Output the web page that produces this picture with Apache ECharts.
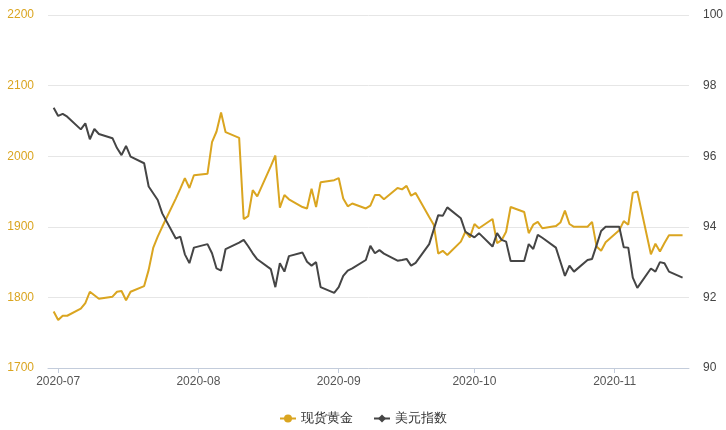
<!DOCTYPE html>
<html>
<head>
<meta charset="utf-8">
<script src="https://cdn.jsdelivr.net/npm/echarts@6/dist/echarts.min.js"></script>
<style>html,body{margin:0;padding:0;background:#fff;}#main{width:726px;height:430px;}</style>
</head>
<body>
<div id="main"></div>
<script>
var dates = [
'2020-06-30',
'2020-07-01','2020-07-02','2020-07-03','2020-07-06','2020-07-07','2020-07-08','2020-07-09','2020-07-10',
'2020-07-13','2020-07-14','2020-07-15','2020-07-16','2020-07-17','2020-07-20','2020-07-21','2020-07-22',
'2020-07-23','2020-07-24','2020-07-27','2020-07-28','2020-07-29','2020-07-30','2020-07-31',
'2020-08-03','2020-08-04','2020-08-05','2020-08-06','2020-08-07','2020-08-10','2020-08-11','2020-08-12',
'2020-08-13','2020-08-14','2020-08-17','2020-08-18','2020-08-19','2020-08-20','2020-08-21','2020-08-24',
'2020-08-25','2020-08-26','2020-08-27','2020-08-28','2020-08-31',
'2020-09-01','2020-09-02','2020-09-03','2020-09-04','2020-09-07','2020-09-08','2020-09-09','2020-09-10',
'2020-09-11','2020-09-14','2020-09-15','2020-09-16','2020-09-17','2020-09-18','2020-09-21','2020-09-22',
'2020-09-23','2020-09-24','2020-09-25','2020-09-28','2020-09-29','2020-09-30',
'2020-10-01','2020-10-02','2020-10-05','2020-10-06','2020-10-07','2020-10-08','2020-10-09','2020-10-12',
'2020-10-13','2020-10-14','2020-10-15','2020-10-16','2020-10-19','2020-10-20','2020-10-21','2020-10-22',
'2020-10-23','2020-10-26','2020-10-27','2020-10-28','2020-10-29','2020-10-30',
'2020-11-02','2020-11-03','2020-11-04','2020-11-05','2020-11-06','2020-11-09','2020-11-10','2020-11-11',
'2020-11-12','2020-11-13','2020-11-16'
];
var goldValues = [
1780,
1768,1774,1774,1784,1792,1808,1803,1798,
1801,1808,1809,1796,1808,1816,1839,1870,
1886,1900,1940,1954,1969,1955,1973,
1975,2020,2035,2062,2034,2026,1911,1915,
1952,1943,1986,2001,1927,1945,1939,1928,
1926,1954,1928,1963,1966,
1969,1940,1929,1933,1926,1930,1945,1945,
1939,1955,1953,1958,1944,1948,1914,1903,
1862,1866,1860,1879,1893,1885,
1904,1898,1911,1877,1881,1893,1928,1921,
1891,1903,1907,1898,1901,1906,1923,1904,
1900,1900,1907,1872,1866,1878,
1895,1908,1903,1948,1950,1861,1876,1865,
1877,1888,1888
];
var dxyValues = [
97.37,
97.14,97.20,97.12,96.76,96.93,96.48,96.77,96.63,
96.51,96.23,96.03,96.29,95.99,95.80,95.14,94.95,
94.76,94.38,93.67,93.72,93.22,92.97,93.41,
93.51,93.25,92.82,92.76,93.37,93.55,93.63,93.45,
93.25,93.08,92.80,92.29,92.97,92.73,93.17,93.27,
93.01,92.90,93.00,92.29,92.13,
92.29,92.61,92.76,92.82,93.06,93.46,93.25,93.34,
93.24,93.04,93.06,93.09,92.90,92.98,93.51,93.92,
94.33,94.31,94.55,94.24,93.86,93.78,
93.70,93.82,93.44,93.82,93.63,93.58,93.03,93.03,
93.51,93.37,93.77,93.69,93.41,93.01,92.61,92.90,
92.73,93.06,93.09,93.48,93.88,94.00,
94.00,93.42,93.41,92.56,92.27,92.82,92.73,93.00,
92.97,92.73,92.56
];
var seriesNames = ['现货黄金', '美元指数'];
var goldTicks = [1700, 2200, 100];
var dxyTicks = [90, 100, 2];

var goldColor = '#DAA520';
var dxyColor = '#454545';

function pairs(vals) {
  return dates.map(function (d, i) { return [d, vals[i]]; });
}

var chart = echarts.init(document.getElementById('main'), null, {renderer: 'canvas'});
chart.setOption({
  animation: false,
  backgroundColor: '#fff',
  grid: {left: 48, right: 35, top: 15, bottom: 62},
  legend: {
    bottom: 0,
    left: 'center',
    itemWidth: 16,
    itemHeight: 10,
    itemGap: 20,
    textStyle: {color: '#333', fontSize: 13},
    data: seriesNames
  },
  xAxis: {
    type: 'time',
    min: '2020-06-28 18:00:00',
    max: '2020-11-17 10:00:00',
    splitNumber: 5,
    axisLine: {lineStyle: {color: '#C3CCDB'}},
    axisTick: {show: true, lineStyle: {color: '#C3CCDB'}},
    splitLine: {show: false},
    axisLabel: {
      color: '#555',
      fontSize: 12,
      formatter: '{yyyy}-{MM}',
      margin: 8
    }
  },
  yAxis: [
    {
      type: 'value',
      position: 'left',
      min: goldTicks[0], max: goldTicks[1], interval: goldTicks[2],
      axisLine: {show: false},
      axisTick: {show: false},
      splitLine: {lineStyle: {color: '#E6E6E6'}},
      axisLabel: {color: goldColor, fontSize: 12, margin: 14, formatter: function (v) { return String(v); }}
    },
    {
      type: 'value',
      position: 'right',
      min: dxyTicks[0], max: dxyTicks[1], interval: dxyTicks[2],
      axisLine: {show: false},
      axisTick: {show: false},
      splitLine: {show: false},
      axisLabel: {color: '#444', fontSize: 12, margin: 14, formatter: function (v) { return String(v); }}
    }
  ],
  series: [
    {
      name: seriesNames[0],
      type: 'line',
      yAxisIndex: 0,
      showSymbol: false,
      symbol: 'circle',
      symbolSize: 7,
      color: goldColor,
      lineStyle: {width: 2, color: goldColor},
      data: pairs(goldValues)
    },
    {
      name: seriesNames[1],
      type: 'line',
      yAxisIndex: 1,
      showSymbol: false,
      symbol: 'diamond',
      symbolSize: 8,
      color: dxyColor,
      lineStyle: {width: 2, color: dxyColor},
      data: pairs(dxyValues)
    }
  ]
});
</script>
</body>
</html>
